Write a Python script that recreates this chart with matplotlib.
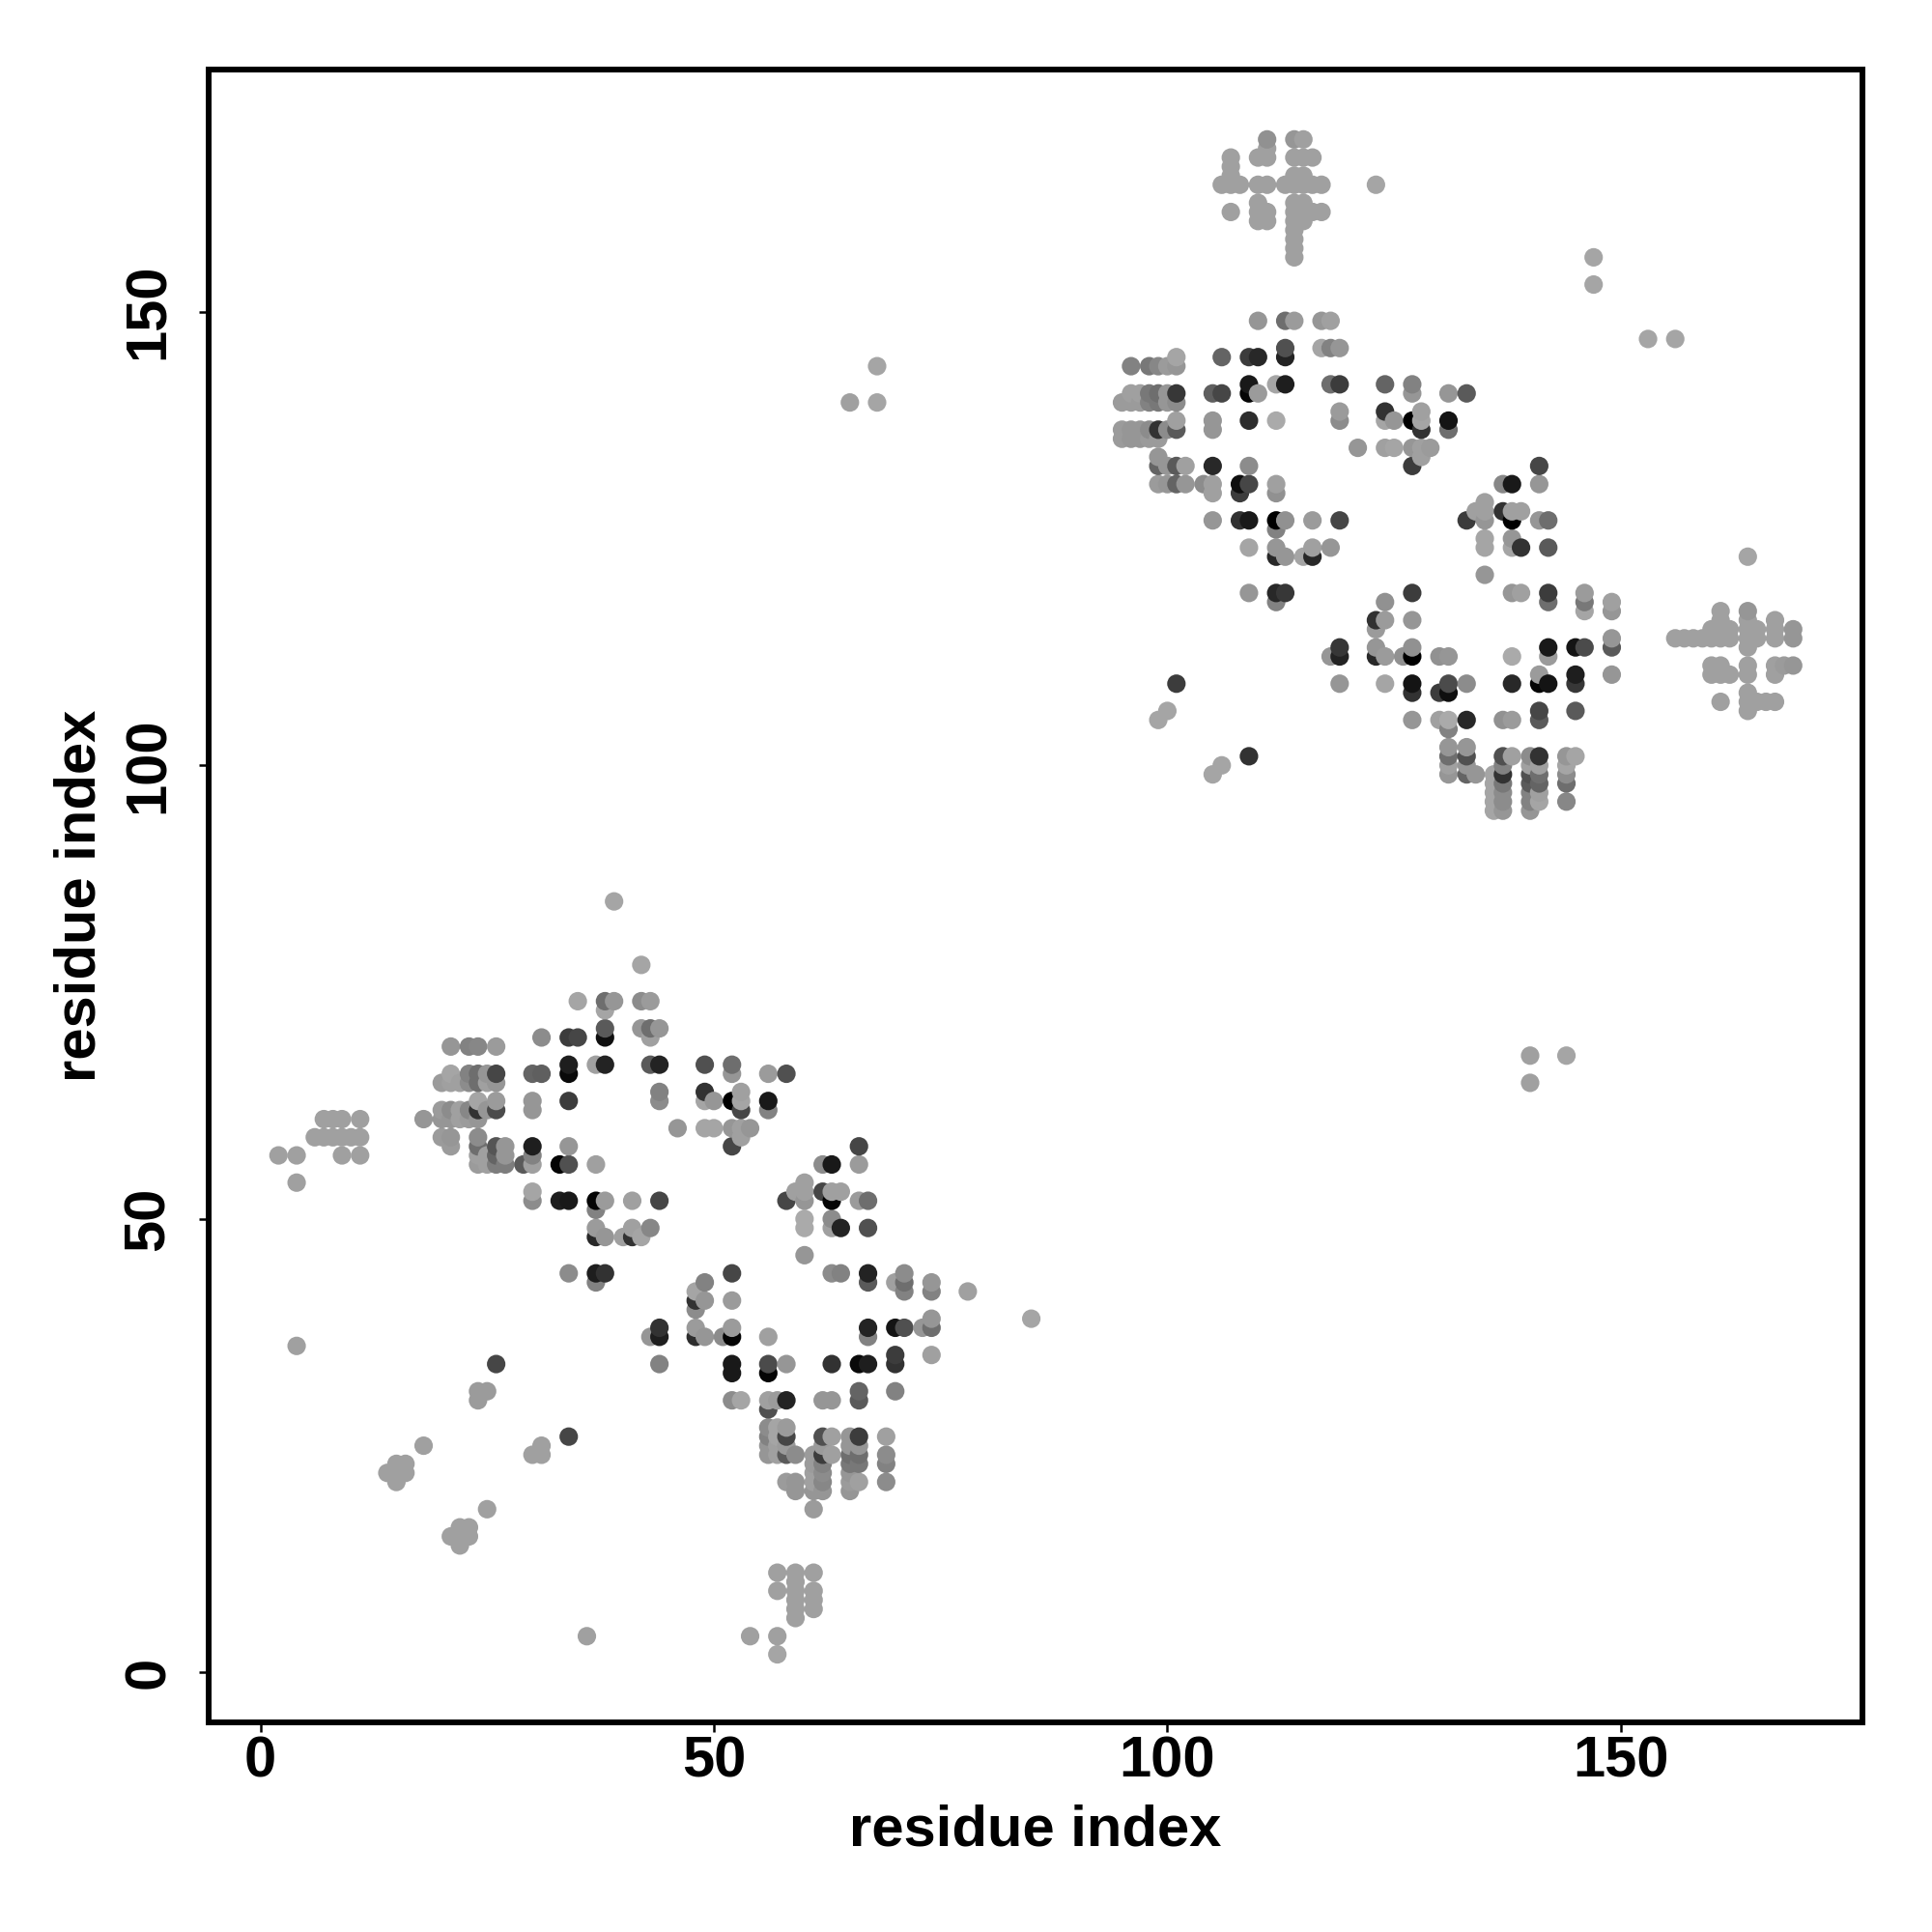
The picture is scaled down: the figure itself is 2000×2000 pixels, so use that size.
import matplotlib
matplotlib.use('Agg')
import matplotlib.pyplot as plt

plt.rcParams['font.family'] = ['Liberation Sans', 'DejaVu Sans']
plt.rcParams['font.weight'] = 'bold'

# contact map, read column by column (x, then its y values and grey levels)
col_x = [2, 4, 6, 7, 8, 9, 10, 11, 14, 15, 16, 18, 20, 21, 22, 23, 24, 25, 26, 27,
         29, 30, 31, 33, 34, 35, 36, 37, 38, 39, 40, 41, 42, 43, 44, 46, 48, 49, 50, 51,
         52, 53, 54, 56, 57, 58, 59, 60, 61, 62, 63, 64, 65, 66, 67, 68, 69, 70, 71, 73,
         74, 78, 85,
         95, 96, 97, 98, 99, 100, 101, 102, 104, 105, 106, 107, 108, 109, 110, 111, 112, 113, 114, 115,
         116, 117, 118, 119, 121, 123, 124, 125, 126, 127, 128, 129, 130, 131, 133, 134, 135, 136, 137, 138,
         139, 140, 141, 142, 144, 145, 146, 147, 149, 153, 156, 157, 158, 159, 160, 161, 162, 164, 165, 166,
         167, 168, 169]

col_y = [
    [57], [36, 54, 57], [59], [59, 61], [59, 61], [57, 59, 61], [59], [57, 59, 61],
    [22], [21, 22, 23], [22, 23], [25, 61],
    [59, 61, 62, 65],
    [15, 58, 59, 61, 62, 65, 66, 69],
    [14, 15, 16, 61, 62, 65],
    [15, 16, 61, 62, 65, 66, 69],
    [30, 31, 56, 57, 58, 59, 61, 62, 63, 65, 66, 69],
    [18, 31, 56, 57, 62, 65, 66],
    [34, 56, 57, 58, 62, 63, 65, 66, 69],
    [56, 57, 58],
    [56],
    [24, 52, 53, 56, 57, 58, 62, 63, 66],
    [24, 25, 66, 70],
    [52, 56],
    [26, 44, 52, 56, 58, 63, 66, 67, 70],
    [70, 74],
    [4],
    [43, 44, 48, 49, 51, 52, 56, 67],
    [44, 48, 52, 67, 70, 71, 73, 74],
    [74, 85],
    [48],
    [48, 49, 52],
    [48, 71, 74, 78],
    [37, 49, 67, 70, 71, 74],
    [34, 37, 38, 52, 63, 64, 67, 71],
    [60],
    [37, 38, 40, 41, 42],
    [37, 41, 43, 60, 63, 64, 67],
    [60, 63],
    [37],
    [30, 33, 34, 37, 38, 41, 44, 58, 60, 63, 66, 67],
    [30, 59, 60, 62, 63, 64],
    [4, 60],
    [24, 25, 26, 27, 29, 30, 33, 34, 37, 62, 63, 66],
    [2, 4, 9, 11, 24, 25, 26, 27, 30],
    [21, 24, 25, 26, 27, 30, 34, 52, 66],
    [6, 7, 8, 9, 10, 11, 20, 21, 24, 53],
    [46, 49, 50, 52, 53, 54],
    [7, 8, 9, 11, 18, 20, 21, 22, 23, 24],
    [20, 21, 22, 23, 24, 25, 26, 30, 53, 56],
    [24, 26, 30, 34, 44, 49, 50, 52, 53, 56],
    [44, 49, 53],
    [20, 21, 22, 23, 24, 25, 26, 140],
    [21, 23, 24, 25, 26, 30, 31, 34, 52, 56, 58],
    [34, 37, 38, 43, 44, 49, 52],
    [140, 144],
    [21, 23, 24, 26],
    [31, 34, 35, 38, 43],
    [38, 42, 43, 44],
    [38],
    [35, 38, 39, 42, 43],
    [42],
    [39],
    # second domain
    [136, 137, 140],
    [136, 137, 140, 141, 144],
    [136, 137, 140, 141],
    [136, 137, 140, 141, 144],
    [105, 131, 133, 134, 136, 137, 140, 141, 144],
    [106, 131, 133, 137, 140, 141, 144],
    [109, 131, 133, 137, 138, 140, 141, 144, 145],
    [131, 133],
    [131],
    [99, 127, 130, 131, 133, 137, 138, 141],
    [100, 141, 145, 164],
    [161, 164, 165, 166, 167],
    [127, 130, 131, 164],
    [101, 119, 124, 127, 131, 133, 138, 141, 142, 145],
    [141, 145, 149, 160, 161, 162, 164, 167],
    [160, 161, 164, 167, 168, 169],
    [118, 119, 123, 124, 126, 127, 130, 131, 138, 142],
    [119, 123, 127, 142, 145, 146, 149, 164],
    [149, 156, 157, 158, 159, 160, 161, 162, 164, 165, 167, 169],
    [123, 160, 161, 162, 164, 165, 167, 169],
    [123, 124, 127, 161, 164, 167],
    [146, 149, 161, 164],
    [112, 124, 142, 146, 149],
    [109, 112, 113, 127, 138, 139, 142, 146],
    [135],
    [112, 113, 115, 116, 164],
    [109, 112, 116, 118, 135, 138, 139, 142],
    [135, 138],
    [112],
    [105, 108, 109, 112, 113, 116, 119, 133, 135, 138, 141, 142],
    [134, 135, 137, 138, 139],
    [135],
    [105, 108, 112],
    [99, 100, 101, 102, 104, 105, 108, 109, 112, 137, 138, 141],
    [99, 100, 101, 102, 105, 109, 127, 141],
    [99, 128],
    [121, 124, 125, 127, 128, 129],
    [95, 96, 97, 98, 99],
    [95, 96, 97, 98, 99, 100, 101, 105, 128, 131],
    [101, 105, 109, 112, 119, 124, 125, 127, 128, 131],
    [119, 124, 128],
    [65, 68, 95, 96, 97, 98, 99, 100, 101],
    [96, 97, 98, 99, 100, 101, 105, 106, 109, 110, 127, 131, 133],
    [109, 112, 113, 118, 119, 124, 127],
    [68, 96, 98, 99, 100, 101],
    [101, 106, 109, 110, 113],
    [113, 117, 118, 119],
    [153, 156],
    [110, 113, 114, 117, 118],
    [147],
    [114, 147],
    [114], [114], [114],
    [110, 111, 114, 115],
    [107, 110, 111, 114, 115, 116, 117],
    [110, 114, 115],
    [106, 107, 108, 110, 111, 113, 114, 115, 116, 117, 123],
    [107, 114, 115],
    [107],
    [107, 110, 111, 114, 115, 116],
    [111],
    [111, 114, 115],
]

col_grey = [
    [160], [160, 160, 160], [160], [160, 160], [160, 160], [160, 160, 160], [160], [160, 160, 160],
    [160], [160, 160, 160], [160, 160], [160, 150],
    [155, 150, 155, 155],
    [160, 155, 150, 150, 140, 160, 165, 150],
    [160, 160, 160, 160, 160, 160],
    [160, 160, 155, 135, 140, 130, 130],
    [155, 155, 155, 160, 110, 140, 150, 50, 165, 110, 110, 135],
    [160, 155, 160, 160, 150, 160, 150],
    [70, 125, 100, 85, 75, 155, 150, 70, 155],
    [125, 150, 150],
    [90],
    [160, 140, 165, 160, 130, 30, 150, 150, 100],
    [160, 160, 95, 140],
    [30, 5],
    [70, 140, 25, 80, 150, 60, 10, 30, 60],
    [70, 165],
    [160],
    [130, 30, 40, 155, 130, 5, 160, 160],
    [50, 150, 155, 35, 15, 90, 165, 110],
    [150, 165],
    [160],
    [50, 160, 160],
    [165, 150, 140, 165],
    [150, 135, 90, 160, 110, 155],
    [130, 30, 50, 70, 140, 130, 35, 150],
    [150],
    [45, 155, 140, 50, 165],
    [150, 150, 130, 165, 165, 50, 80],
    [165, 150],
    [140],
    [140, 25, 25, 5, 155, 155, 70, 70, 150, 0, 150, 110],
    [165, 160, 160, 70, 165, 160],
    [160, 150],
    [150, 150, 130, 140, 80, 160, 5, 75, 160, 130, 25, 155],
    [165, 160, 160, 160, 160, 160, 165, 165, 155],
    [155, 90, 155, 70, 155, 35, 150, 70, 80],
    [160, 160, 160, 160, 160, 160, 150, 150, 140, 160],
    [150, 170, 170, 150, 160, 160],
    [160, 160, 160, 160, 155, 150, 160, 160, 155, 155],
    [150, 135, 140, 130, 60, 155, 80, 150, 70, 140],
    [160, 160, 150, 50, 140, 160, 140, 5, 160, 25],
    [130, 35, 160],
    [150, 155, 150, 120, 110, 150, 150, 160],
    [160, 120, 110, 150, 60, 90, 100, 10, 155, 155, 70],
    [30, 130, 35, 90, 35, 80, 110],
    [165, 165],
    [140, 130, 140, 160],
    [130, 50, 60, 20, 160],
    [80, 130, 110, 140],
    [150],
    [160, 110, 150, 130, 150],
    [160],
    [165],
    # second domain
    [155, 155, 155],
    [150, 150, 155, 160, 130],
    [150, 150, 155, 160],
    [155, 140, 130, 120, 120],
    [165, 155, 100, 150, 155, 50, 120, 110, 135],
    [165, 150, 150, 140, 150, 150, 155],
    [60, 100, 90, 90, 160, 140, 55, 150, 165],
    [150, 160],
    [140],
    [165, 150, 160, 160, 40, 150, 150, 95],
    [165, 70, 100, 160],
    [160, 160, 160, 160, 160],
    [50, 60, 15, 160],
    [50, 150, 165, 25, 70, 140, 45, 5, 25, 60],
    [155, 40, 150, 160, 160, 160, 160, 160],
    [160, 160, 160, 160, 160, 145],
    [130, 40, 40, 150, 130, 0, 145, 160, 170, 165],
    [55, 150, 145, 30, 35, 80, 110, 160],
    [155, 160, 160, 160, 160, 160, 160, 160, 160, 160, 160, 150],
    [165, 160, 160, 160, 160, 160, 160, 160],
    [40, 160, 155, 160, 160, 160],
    [165, 150, 160, 160],
    [150, 150, 110, 130, 160],
    [150, 35, 55, 70, 140, 155, 60, 150],
    [150],
    [40, 150, 155, 50, 165],
    [165, 155, 155, 145, 160, 165, 50, 100],
    [165, 150],
    [145],
    [150, 50, 20, 0, 145, 150, 60, 60, 150, 0, 150, 130],
    [160, 160, 50, 165, 160],
    [155],
    [160, 60, 145],
    [150, 160, 110, 150, 130, 170, 15, 75, 150, 110, 20, 150],
    [100, 150, 80, 150, 40, 140, 60, 90],
    [150, 160],
    [150, 165, 165, 150, 160, 160],
    [165, 165, 165, 165, 165],
    [150, 140, 140, 120, 50, 130, 80, 145, 50, 135],
    [160, 155, 40, 170, 150, 165, 150, 0, 160, 25],
    [160, 50, 160],
    [160, 160, 150, 130, 130, 90, 80, 160, 140],
    [165, 160, 100, 110, 160, 50, 90, 70, 5, 155, 150, 150, 70],
    [20, 155, 25, 110, 60, 90, 110],
    [165, 135, 110, 140, 165, 150],
    [165, 90, 55, 30, 20],
    [75, 165, 120, 155],
    [165, 165],
    [150, 90, 150, 150, 160],
    [165],
    [160, 165],
    [160], [160], [160],
    [160, 160, 160, 160],
    [160, 160, 160, 160, 160, 160, 160],
    [160, 160, 160],
    [160, 160, 160, 160, 160, 160, 160, 160, 160, 150, 165],
    [160, 160, 160],
    [160],
    [160, 160, 160, 160, 160, 160],
    [155],
    [150, 150, 150],
]

res_x, res_y, res_colour = [], [], []
for x, ys, greys in zip(col_x, col_y, col_grey):
    for y, g in zip(ys, greys):
        res_x.append(x)
        res_y.append(y)
        res_colour.append(str(g / 255))

fig = plt.figure(figsize=(20, 20), dpi=100)
ax = fig.add_axes([216 / 2000, 1 - 1783 / 2000, (1928 - 216) / 2000, (1783 - 72) / 2000])

ax.scatter(res_x, res_y, c=res_colour, s=190, linewidths=0, zorder=3)

ax.set_xlim(-5.7, 176.64)
ax.set_ylim(-5.5, 176.7)
ax.set_xticks([0, 50, 100, 150])
ax.set_yticks([0, 50, 100, 150])
ax.tick_params(axis='x', length=7.5, width=1.8, labelsize=43, pad=2)
ax.tick_params(axis='y', length=7.5, width=1.8, labelsize=43, pad=17)
plt.setp(ax.get_yticklabels(), rotation=90, va='center')
for s in ax.spines.values():
    s.set_linewidth(4.3)

ax.set_xlabel('residue index', fontsize=43, fontweight='bold', labelpad=12)
ax.set_ylabel('residue index', fontsize=43, fontweight='bold', labelpad=12)

plt.savefig('out.png', dpi=100)
